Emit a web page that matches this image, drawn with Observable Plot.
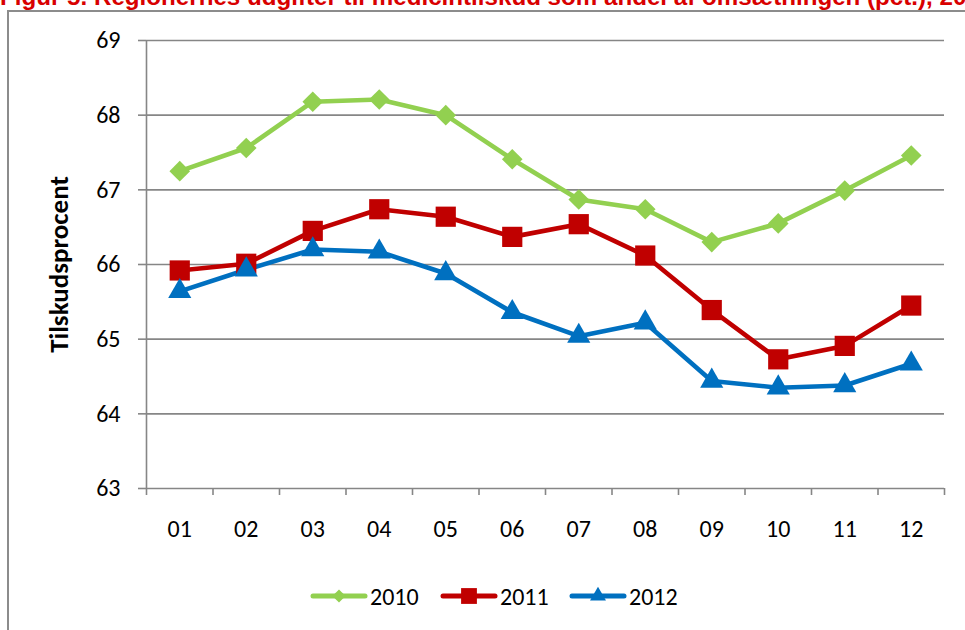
<!DOCTYPE html>
<html>
<head>
<meta charset="utf-8">
<script src="https://cdn.jsdelivr.net/npm/d3@7"></script>
<script src="https://cdn.jsdelivr.net/npm/@observablehq/plot@0.6"></script>
<style>
  html, body { margin: 0; padding: 0; background: #fff; }
  #wrap { position: relative; width: 965px; height: 630px; overflow: hidden; background: #fff; }
  #frame { position: absolute; left: 7px; top: 10px; width: 2000px; height: 2000px;
           border-left: 2px solid #8c8c8c; border-top: 2px solid #8c8c8c; }
  #title { position: absolute; left: 0px; top: 0; white-space: nowrap;
           font-family: "Liberation Sans Narrow", "Arial Narrow", "Liberation Sans", sans-serif;
           font-weight: bold; color: #D80000; line-height: 1; }
  #chart { position: absolute; left: 0; top: 0; }
  #legend { position: absolute; top: 582px; left: 0; width: 965px; height: 28px;
            font-family: Carlito, Lato, sans-serif; font-size: 24px; color: #000; }
  .item { position: absolute; top: 0; height: 28px; display: flex; align-items: center; }
  .item svg { display: block; }
  .item span { margin-left: 2px; }
</style>
</head>
<body>
<div id="wrap">
  <div id="frame"></div>
  <div id="chart"></div>
  <div id="title"></div>
  <div id="legend"></div>
</div>
<script>
const titleText = "Figur 5. Regionernes udgifter til medicintilskud som andel af omsætningen (pct.), 2010-2012";
const months = ["01","02","03","04","05","06","07","08","09","10","11","12"];
const v2010 = [67.25, 67.56, 68.18, 68.21, 68.00, 67.41, 66.87, 66.74, 66.30, 66.55, 66.99, 67.46];
const v2011 = [65.92, 66.01, 66.45, 66.74, 66.64, 66.37, 66.54, 66.12, 65.39, 64.73, 64.91, 65.45];
const v2012 = [65.64, 65.93, 66.20, 66.17, 65.88, 65.36, 65.04, 65.22, 64.44, 64.35, 64.38, 64.67];
const seriesNames = ["2010", "2011", "2012"];
const seriesColors = ["#92D050", "#C00000", "#0070C0"];
const yTicks = [63, 64, 65, 66, 67, 68, 69];
const yLabel = "Tilskudsprocent";

const seriesValues = [v2010, v2011, v2012];
const symbols = ["diamond2", "square", "triangle"];
const radii = [9.3, 11.4, 8.6];

const idx = months.map((m, i) => i + 1);
const bounds = [0.5, ...idx.map(i => i + 0.5)];

const rows = seriesNames.map((s, k) => seriesValues[k].map((v, i) => ({series: s, x: i + 1, y: v})));

const gray = "#868686";
const font = "Carlito, Lato, sans-serif";

const marks = [
  Plot.gridY(yTicks, {stroke: gray, strokeOpacity: 1, strokeWidth: 1.6}),
  Plot.ruleX([0.5], {stroke: gray, strokeWidth: 1.6}),
  Plot.axisY({ticks: yTicks, tickSize: 8, tickPadding: 18, tickFormat: d3.format("d"), stroke: gray, strokeWidth: 1.6, fill: "#000", fontSize: 24, label: null}),
  Plot.axisX({ticks: bounds, tickSize: 7, tickFormat: () => "", stroke: gray, strokeWidth: 1.6, label: null}),
  Plot.axisX({ticks: idx, tickSize: 0, tickPadding: 31, tickFormat: i => months[i - 1], fill: "#000", fontSize: 24, label: null}),
  Plot.text([yLabel], {frameAnchor: "left", textAnchor: "middle", lineAnchor: "middle", dx: -87, rotate: -90, fontSize: 27, fontWeight: "bold", fill: "#000"})
];
rows.forEach((r, k) => {
  marks.push(Plot.lineY(r, {x: "x", y: "y", stroke: seriesColors[k], strokeWidth: 4.6, strokeLinejoin: "round"}));
});
rows.forEach((r, k) => {
  marks.push(Plot.dot(r, {x: "x", y: "y", symbol: () => symbols[k], r: radii[k], fill: seriesColors[k], stroke: "none"}));
});

const chart = Plot.plot({
  width: 965,
  height: 630,
  marginLeft: 146,
  marginRight: 21,
  marginTop: 40,
  marginBottom: 142,
  style: {fontFamily: font, background: "transparent", overflow: "visible"},
  x: {type: "linear", domain: [0.5, 12.5], axis: null},
  y: {domain: [63, 69], axis: null},
  symbol: {type: "identity"},
  marks
});
document.getElementById("chart").appendChild(chart);

// Title: scale font so the prefix up to "20" matches reference width
const titleEl = document.getElementById("title");
const prefix = titleText.slice(0, titleText.lastIndexOf("2010"));
const ctx = document.createElement("canvas").getContext("2d");
const fam = '"Liberation Sans Narrow", "Arial Narrow", "Liberation Sans", sans-serif';
ctx.font = "bold 20px " + fam;
const w = ctx.measureText(prefix).width;
const fs = 20 * 940 / w;
titleEl.style.fontSize = fs + "px";
titleEl.textContent = titleText;
// baseline around y=7 (top of the title is cut off, as in the reference)
titleEl.style.top = (7 - fs * 0.9) + "px";

// Legend
const legend = d3.select("#legend");
const legendX = [310, 440, 569];
const legendSyms = [d3.symbolDiamond2, d3.symbolSquare, d3.symbolTriangle];
const legendSizes = [110, 250, 110];
seriesNames.forEach((s, k) => {
  const it = legend.append("div").attr("class", "item").style("left", legendX[k] + "px");
  const svg = it.append("svg").attr("width", 58).attr("height", 28);
  svg.append("line").attr("x1", 3).attr("x2", 55).attr("y1", 14).attr("y2", 14)
    .attr("stroke", seriesColors[k]).attr("stroke-width", 5).attr("stroke-linecap", "round");
  svg.append("path").attr("d", d3.symbol(legendSyms[k], legendSizes[k])())
    .attr("transform", "translate(29,14)").attr("fill", seriesColors[k]);
  it.append("span").text(s);
});
</script>
</body>
</html>
